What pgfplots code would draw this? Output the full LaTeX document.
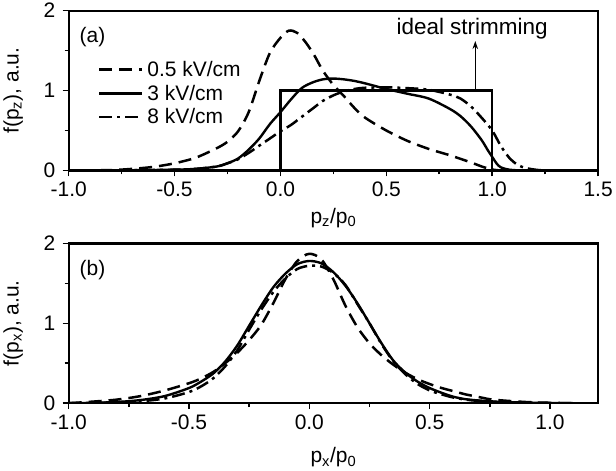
\documentclass[border=0pt]{standalone}
\usepackage{fontspec}
\setmainfont{Liberation Sans}
\usepackage{pgfplots}
\pgfplotsset{compat=1.18}
\usetikzlibrary{arrows.meta}

\newcommand{\bigf}{\fontsize{21}{25}\selectfont}
\pgfplotsset{
  mystyle/.style={
    scale only axis, width=530pt, height=160pt,
    axis line style={line width=2.3pt},
    tick align=outside, tick pos=left,
    major tick length=6pt, minor tick length=4pt,
    tick style={black, line width=1.6pt},
    minor x tick num=1, minor y tick num=1,
    ymin=0, ymax=2,
    ytick={0,1,2}, yticklabels={0,1,2},
    tick label style={font=\bigf},
    label style={font=\bigf},
    ylabel style={at={(axis description cs:-0.105,0.5)}, anchor=center},
    xticklabel style={yshift=-2pt},
    yticklabel style={xshift=-4pt},
  },
  dashedline/.style={black, line width=2.5pt, dash pattern=on 13pt off 7pt},
  solidline/.style={black, line width=2.4pt, solid},
  dashdotline/.style={black, line width=2.5pt, dash pattern=on 13pt off 5pt on 3pt off 5pt},
}

\begin{document}
\begin{tikzpicture}
% ---------------- panel (a) ----------------
\begin{axis}[
  mystyle, name=top,
  xmin=-1, xmax=1.5,
  xtick={-1,-0.5,0,0.5,1,1.5},
  xticklabels={-1.0,-0.5,0.0,0.5,1.0,1.5},
  xlabel={p\textsubscript{z}/p\textsubscript{0}},
  ylabel={f(p\textsubscript{z}), a.u.},
  xlabel style={at={(axis description cs:0.5,-0.3)}, anchor=center},
  legend cell align=left,
  legend image code/.code={\draw[#1] (0pt,0pt) -- (43pt,0pt);},
  legend style={at={(axis description cs:0.055,0.69)}, anchor=north west,
    draw=none, fill=none, inner sep=0pt, row sep=5pt,
    font=\bigf, nodes={inner sep=1pt},
    /tikz/every odd column/.append style={column sep=3pt}},
]
\addplot[dashedline, smooth] coordinates {
(-0.95,0) (-0.8,0.005) (-0.7,0.02) (-0.6,0.045) (-0.5,0.09) (-0.4,0.16)
(-0.3,0.28) (-0.25,0.36) (-0.2,0.49) (-0.15,0.73) (-0.1,1.12) (-0.05,1.47)
(0.0,1.66) (0.04,1.75) (0.08,1.72) (0.12,1.6) (0.16,1.44) (0.2,1.25)
(0.25,1.07) (0.3,0.93) (0.35,0.78) (0.4,0.66) (0.5,0.5) (0.6,0.37)
(0.7,0.27) (0.8,0.19) (0.9,0.1) (0.95,0.05) (1.0,0.012) (1.05,0) (1.2,0)
};
\addlegendentry{0.5 kV/cm}
\addplot[solidline, smooth] coordinates {
(-0.9,0) (-0.7,0.003) (-0.5,0.01) (-0.4,0.02) (-0.3,0.05) (-0.25,0.09)
(-0.2,0.15) (-0.15,0.26) (-0.1,0.4) (-0.05,0.58) (0.0,0.73) (0.05,0.89)
(0.1,1.03) (0.15,1.1) (0.2,1.14) (0.25,1.15) (0.3,1.14) (0.35,1.12)
(0.4,1.09) (0.5,1.02) (0.6,0.96) (0.7,0.9) (0.8,0.77) (0.85,0.68)
(0.9,0.55) (0.95,0.38) (0.98,0.25) (1.0,0.17) (1.02,0.09) (1.04,0.04)
(1.08,0.01) (1.15,0) (1.3,0)
};
\addlegendentry{3 kV/cm}
\addplot[dashdotline, smooth] coordinates {
(-0.9,0) (-0.7,0.003) (-0.5,0.01) (-0.4,0.02) (-0.3,0.05) (-0.25,0.09)
(-0.2,0.14) (-0.15,0.22) (-0.1,0.31) (-0.05,0.4) (0.0,0.49) (0.05,0.57)
(0.1,0.67) (0.15,0.77) (0.2,0.87) (0.25,0.94) (0.3,0.99) (0.35,1.02)
(0.4,1.035) (0.5,1.04) (0.6,1.03) (0.7,1.01) (0.8,0.95) (0.85,0.9)
(0.9,0.8) (0.95,0.66) (1.0,0.5) (1.04,0.31) (1.08,0.16) (1.12,0.07)
(1.16,0.03) (1.22,0.005) (1.3,0)
};
\addlegendentry{8 kV/cm}
% ideal strimming box
\addplot[black, line width=2.2pt, forget plot] coordinates {(0,0) (0,1) (1,1) (1,0)};
\draw[-{Stealth[length=8pt,width=5.5pt]}, line width=1pt] (axis cs:0.92,1.0) -- (axis cs:0.92,1.62);
\node[font=\fontsize{22.5}{26}\selectfont] at (axis cs:0.905,1.78) {ideal strimming};
\node[font=\bigf] at (axis description cs:0.045,0.835) {(a)};
\end{axis}

% ---------------- panel (b) ----------------
\begin{axis}[
  mystyle, at={(0pt,-233pt)}, anchor=south west,
  xmin=-1, xmax=1.2,
  xtick={-1,-0.5,0,0.5,1},
  xticklabels={-1.0,-0.5,0.0,0.5,1.0},
  xlabel={p\textsubscript{x}/p\textsubscript{0}},
  ylabel={f(p\textsubscript{x}), a.u.},
  xlabel style={at={(axis description cs:0.5,-0.34)}, anchor=center},
]
\addplot[dashedline, smooth] coordinates {
(-1.0,0) (-0.9,0.02) (-0.8,0.045) (-0.7,0.09) (-0.6,0.16) (-0.5,0.25)
(-0.45,0.31) (-0.4,0.39) (-0.35,0.5) (-0.3,0.63) (-0.25,0.79) (-0.2,0.98)
(-0.15,1.25) (-0.1,1.55) (-0.05,1.78) (0,1.87) (0.05,1.8) (0.1,1.55)
(0.15,1.22) (0.2,0.95) (0.25,0.75) (0.3,0.6) (0.35,0.48) (0.4,0.38)
(0.45,0.3) (0.5,0.24) (0.55,0.19) (0.6,0.15) (0.65,0.11) (0.7,0.08)
(0.75,0.05) (0.8,0.035) (0.9,0.015) (1.0,0.005) (1.1,0)
};
\addplot[solidline, smooth] coordinates {
(-1.0,0) (-0.9,0.005) (-0.8,0.015) (-0.7,0.04) (-0.6,0.09) (-0.5,0.19)
(-0.45,0.27) (-0.4,0.37) (-0.35,0.52) (-0.3,0.72) (-0.25,0.97) (-0.2,1.22)
(-0.15,1.45) (-0.1,1.62) (-0.05,1.74) (0,1.78) (0.05,1.75) (0.1,1.64)
(0.15,1.47) (0.2,1.25) (0.25,1.0) (0.3,0.75) (0.35,0.53) (0.4,0.38)
(0.45,0.27) (0.5,0.19) (0.55,0.13) (0.6,0.08) (0.65,0.05) (0.7,0.035)
(0.75,0.025) (0.8,0.015) (0.9,0.008) (1.0,0.003) (1.1,0)
};
\addplot[dashdotline, smooth] coordinates {
(-1.0,0) (-0.9,0.003) (-0.8,0.01) (-0.7,0.025) (-0.6,0.06) (-0.5,0.14)
(-0.45,0.21) (-0.4,0.31) (-0.35,0.46) (-0.3,0.66) (-0.25,0.92) (-0.2,1.17)
(-0.15,1.39) (-0.1,1.56) (-0.05,1.68) (0,1.72) (0.05,1.71) (0.1,1.63)
(0.15,1.48) (0.2,1.24) (0.25,1.0) (0.3,0.74) (0.35,0.52) (0.4,0.36)
(0.45,0.24) (0.5,0.16) (0.55,0.11) (0.6,0.07) (0.65,0.045) (0.7,0.03)
(0.8,0.012) (0.9,0.004) (1.0,0)
};
\node[font=\bigf] at (axis description cs:0.045,0.83) {(b)};
\end{axis}
\end{tikzpicture}
\end{document}
